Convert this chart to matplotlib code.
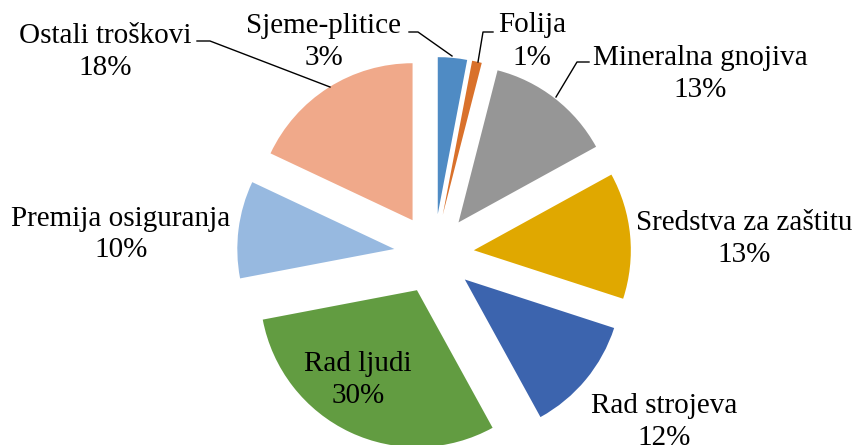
import matplotlib
matplotlib.use("Agg")
import matplotlib.pyplot as plt

categories = ["Sjeme-plitice", "Folija", "Mineralna gnojiva", "Sredstva za zaštitu",
              "Rad strojeva", "Rad ljudi", "Premija osiguranja", "Ostali troškovi"]
values = [3, 1, 13, 13, 12, 30, 10, 18]
colors = ["#4F8BC4", "#D9712B", "#969696", "#E0A800",
          "#3C64AE", "#629C41", "#97B9E0", "#F0A98A"]

W, H = 856, 445
fig = plt.figure(figsize=(W / 100, H / 100), dpi=100)
ax = fig.add_axes([0, 0, 1, 1])

def Y(y):
    return H - y

cx, cy = 434, 254
R = 157
ax.pie(values, colors=colors, startangle=90, counterclock=False, radius=R,
       center=(cx, Y(cy)), explode=[40] * len(values),
       wedgeprops=dict(linewidth=0))
ax.set_xlim(0, W)
ax.set_ylim(0, H)
ax.set_aspect("auto")
ax.axis("off")

font = dict(family="Liberation Serif", fontsize=21, color="black")

# label layout: (x center, baseline line1, baseline line2)
pos = [(324, 33, 65), (532, 32, 65), (700, 65, 97), (744, 230, 262),
       (664, 413, 445), (358, 371, 403), (121, 226, 257), (105, 43, 75)]
for name, v, (x, b1, b2) in zip(categories, values, pos):
    ax.text(x, Y(b1), name, ha="center", va="baseline", **font)
    ax.text(x, Y(b2), f"{v}%", ha="center", va="baseline", **font)

leaders = {
    0: [(409, 32), (418, 32), (452, 56)],
    1: [(493, 32), (483, 32), (478, 62)],
    2: [(589, 62), (577, 62), (556, 97)],
    7: [(197, 41), (210, 41), (330, 87)],
}
for i, pts in leaders.items():
    ax.plot([p[0] for p in pts], [Y(p[1]) for p in pts], color="black", lw=1)

fig.savefig("out.png", dpi=100)
